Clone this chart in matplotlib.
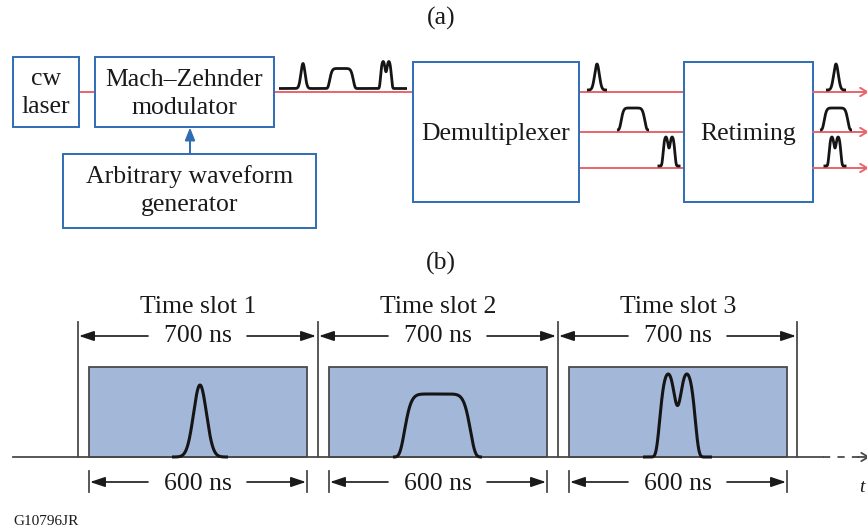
import numpy as np
import matplotlib
matplotlib.use('Agg')
import matplotlib.pyplot as plt
from matplotlib.patches import Rectangle

plt.rcParams['font.family'] = ['Liberation Serif', 'DejaVu Serif']

# ---------------- data ----------------
panel_labels = ['(a)', '(b)']
laser_lines = ['cw', 'laser']
mzm_lines = ['Mach\u2013Zehnder', 'modulator']
awg_lines = ['Arbitrary waveform', 'generator']
demux_label = 'Demultiplexer'
retime_label = 'Retiming'
slot_labels = ['Time slot 1', 'Time slot 2', 'Time slot 3']
slot_period_label = '700 ns'
window_label = '600 ns'
pulse_kinds = ['gauss', 'flat', 'double']
figure_id = 'G10796JR'

# ---------------- styles ----------------
BLUE = '#2f6db3'
RED = '#e9646c'
FILL = '#a3b8d9'
GREY = '#4a4a4a'
FS = 18.5

fig = plt.figure(figsize=(8.67, 5.29), dpi=100)
ax = fig.add_axes([0, 0, 1, 1])
ax.set_xlim(0, 867)
ax.set_ylim(529, 0)
ax.axis('off')


def shape(kind, u):
    if kind == 'gauss':
        return np.exp(-u ** 2 / (2 * 0.23 ** 2))
    if kind == 'flat':
        return np.exp(-np.log(2) * np.abs(u / 0.72) ** 8)
    uu = np.linspace(-1, 1, 801)
    f = lambda v: np.exp(-np.log(2) * np.abs(v / 0.5) ** 6) * (1 - 0.4 * np.exp(-(v / 0.15) ** 2))
    return f(u) / f(uu).max()


def pulse(kind, xc, half, base, height, lw=2.0):
    x = np.linspace(xc - half, xc + half, 300)
    y = base - height * shape(kind, (x - xc) / half)
    ax.plot(x, y, color='#151515', lw=lw, solid_capstyle='butt', zorder=5)


def box(x0, y0, x1, y1, ec=BLUE, fc='white', lw=1.4, z=2):
    ax.add_patch(Rectangle((x0, y0), x1 - x0, y1 - y0, ec=ec, fc=fc, lw=lw, zorder=z))


def text(x, y, s, size=FS, **kw):
    ax.text(x, y, s, ha='center', va='baseline', fontsize=size, color='#1a1a1a', **kw)


def arrow(xy, xytext, **props):
    ax.annotate('', xy=xy, xytext=xytext, arrowprops=props, annotation_clip=False)


# ---------------- panel (a) ----------------
text(441, 25, panel_labels[0])

box(13, 57, 79, 127)
text(46, 85, laser_lines[0])
text(46, 113, laser_lines[1])

box(95, 57, 274, 127)
text(184.5, 86, mzm_lines[0])
text(184.5, 114, mzm_lines[1])

box(63, 154, 316, 228)
text(189.5, 183, awg_lines[0])
text(189.5, 211, awg_lines[1])

arrow((190, 127.5), (190, 154),
      arrowstyle='-|>,head_length=0.75,head_width=0.3', color=BLUE, lw=1.4, shrinkA=0, shrinkB=0)

box(413, 62, 579, 202)
text(496, 140, demux_label)
box(684, 62, 813, 202)
text(748.5, 140, retime_label)

# red optical paths
ax.plot([79, 95], [91.5, 91.5], color=RED, lw=1.4, zorder=1)
ax.plot([274, 413], [91.5, 91.5], color=RED, lw=1.4, zorder=1)
out_y = [92, 132, 168]
for yy in out_y:
    ax.plot([579, 684], [yy, yy], color=RED, lw=1.4, zorder=1)
    arrow((869, yy), (813, yy),
          arrowstyle='->,head_length=0.5,head_width=0.3', color=RED, lw=1.4, shrinkA=0, shrinkB=0)

# multiplexed input waveform
xs = np.linspace(279, 407, 800)
in_centers = [303, 341.5, 386]
in_halves = [9, 16, 10.5]
in_heights = [25, 20, 27]
yw = np.full_like(xs, 88.5)
for k, c, h, hh in zip(pulse_kinds, in_centers, in_halves, in_heights):
    u = (xs - c) / h
    yw -= hh * np.where(np.abs(u) <= 1, shape(k, np.clip(u, -1, 1)), 0)
ax.plot(xs, yw, color='#151515', lw=2.0, solid_capstyle='butt', zorder=5)

# demultiplexed and retimed pulses
demux_centers = [597, 633, 669]
retime_centers = [836, 836, 835]
small_halves = [10, 16, 11.5]
small_heights = [26, 22, 29]
for k, yy, cd, cr, h, hh in zip(pulse_kinds, out_y, demux_centers, retime_centers,
                                small_halves, small_heights):
    pulse(k, cd, h, yy - 2, hh)
    pulse(k, cr, h, yy - 2, hh)

# ---------------- panel (b) ----------------
text(441, 270, panel_labels[1])

axis_y = 457
slot_starts = [78, 318, 558]
slot_w = 239
ax.plot([13, 823], [axis_y, axis_y], color=GREY, lw=1.3, zorder=3)
ax.plot([823, 862], [axis_y, axis_y], color=GREY, lw=1.3, ls=(0, (4, 4)), zorder=3)
arrow((870, axis_y), (858, axis_y),
      arrowstyle='->,head_length=0.5,head_width=0.3', color=GREY, lw=1.3, shrinkA=0, shrinkB=0)
ax.text(859, 492, 't', fontsize=14, style='italic', color='#1a1a1a', ha='left', va='baseline')

for x in slot_starts + [slot_starts[-1] + slot_w]:
    ax.plot([x, x], [322, axis_y], color=GREY, lw=1.3, zorder=3)

pulse_halves = [28, 44.5, 34.5]
pulse_heights = [72, 63, 83]
pulse_offsets = [122, 119.5, 119.5]

dim_style = dict(arrowstyle='-|>,head_length=0.9,head_width=0.3',
                 color='#1a1a1a', lw=1.2, shrinkA=0, shrinkB=0)

for i, (x0, lab, k) in enumerate(zip(slot_starts, slot_labels, pulse_kinds)):
    bx0, bx1 = x0 + 11, x0 + 229
    box(bx0, 367, bx1, axis_y, ec=GREY, fc=FILL, lw=1.3, z=2)
    pulse(k, x0 + pulse_offsets[i], pulse_halves[i], axis_y, pulse_heights[i], lw=2.2)
    cx = x0 + 120
    text(cx, 313, lab)
    # 700 ns dimension
    text(cx, 342, slot_period_label)
    arrow((x0 + 1, 336), (x0 + 70, 336), **dim_style)
    arrow((x0 + slot_w - 1, 336), (x0 + 169, 336), **dim_style)
    # 600 ns dimension
    text(cx, 490, window_label)
    ax.plot([bx0, bx0], [471, 492], color=GREY, lw=1.3)
    ax.plot([bx1, bx1], [471, 492], color=GREY, lw=1.3)
    arrow((bx0 + 1, 482), (x0 + 70, 482), **dim_style)
    arrow((bx1 - 1, 482), (x0 + 169, 482), **dim_style)

ax.text(13, 525, figure_id, fontsize=11, color='#1a1a1a', ha='left', va='baseline')

fig.savefig('out.png', dpi=100)
